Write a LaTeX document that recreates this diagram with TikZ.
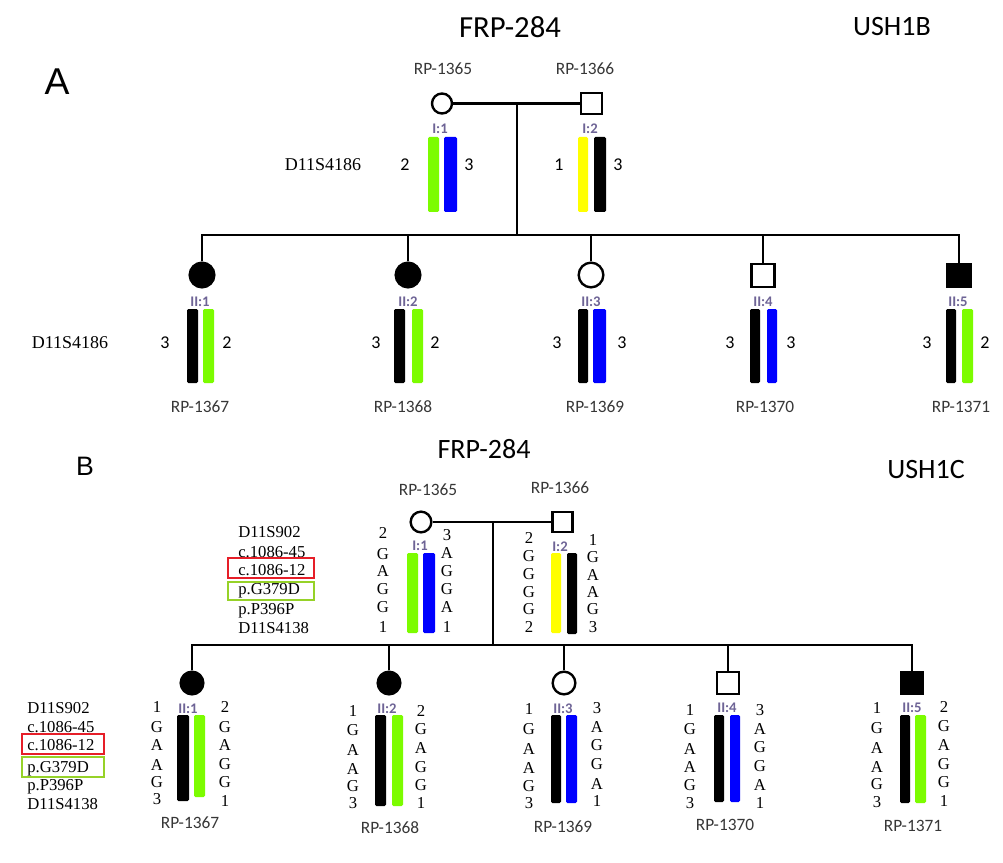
\documentclass[tikz,border=0pt]{standalone}
\usepackage{fontspec}
\setmainfont{Liberation Serif}
\newfontfamily\calfont{Carlito}
\newfontfamily\arialfont{Liberation Sans}
\definecolor{bgreen}{RGB}{124,252,0}
\definecolor{bblue}{RGB}{0,0,255}
\definecolor{byellow}{RGB}{255,255,0}
\definecolor{rpgray}{RGB}{55,55,55}
\definecolor{tagcol}{RGB}{110,100,150}
\definecolor{boxred}{RGB}{230,30,40}
\definecolor{boxgreen}{RGB}{150,210,40}
\begin{document}
\begin{tikzpicture}[x=0.75pt,y=-0.75pt,
 ped/.style={line width=1.9pt},
 fem/.style={circle,draw,line width=1.8pt,fill=white,inner sep=0pt},
 mal/.style={rectangle,draw,line width=1.8pt,fill=white,inner sep=0pt},
 aff/.style={fill=black},
 rp/.style={font=\calfont\fontsize{13}{15}\selectfont,text=rpgray,inner sep=0pt},
 tag/.style={font=\calfont\bfseries\fontsize{11}{12}\selectfont,text=tagcol,inner sep=0pt},
 ala/.style={font=\calfont\fontsize{13.5}{15}\selectfont,inner sep=0pt},
 alb/.style={font=\fontsize{12.5}{14}\selectfont,inner sep=0pt},
 leg/.style={font=\fontsize{12.5}{14}\selectfont,inner sep=0pt,anchor=base west},
 ttl/.style={font=\calfont\fontsize{21}{24}\selectfont,inner sep=0pt},
 bar/.style={rounded corners=1pt}]
\useasboundingbox (0,0) rectangle (1003,863);
\fill[white] (0,0) rectangle (1003,863);

% ================= PART A =================
\node[ttl,font=\calfont\fontsize{23}{26}\selectfont] (titA) at (510,27) {FRP-284};
\node[ttl] (genA) at (892,27) {USH1B};
\node[font=\arialfont\fontsize{28}{30}\selectfont,inner sep=0pt] (lblA) at (57,82) {A};

\node[rp] (rpA65) at (443,69) {RP-1365};
\node[rp] (rpA66) at (585,69) {RP-1366};

\node[fem,minimum size=15pt] (am) at (442,103.5) {};
\node[mal,minimum size=15.5pt] (af) at (591.5,103.5) {};
\draw[ped] (am.east) -- (af.west);

\node[font=\fontsize{13.5}{15}\selectfont,inner sep=0pt] (mkA1) at (323,165) {D11S4186};
\node[tag] (tagA1) at (440,129) {I:1};
\node[tag] (tagA2) at (590,129) {I:2};
\fill[bgreen,bar] (428,137) rectangle (439,212);
\fill[bblue,bar] (444,137) rectangle (457,212);
\fill[byellow,bar] (578,137) rectangle (588,212);
\fill[black,bar] (594,137) rectangle (606,212);
\node[ala] (aA1l) at (405,165) {2};
\node[ala] (aA1r) at (469,165) {3};
\node[ala] (aA2l) at (559,165) {1};
\node[ala] (aA2r) at (618,165) {3};

\coordinate (dA) at (517,103.5);
\coordinate (sA) at (517,235);
\draw[ped] (dA) -- (sA);

\node[fem,aff,minimum size=18.5pt] (k1) at (202,275) {};
\node[fem,aff,minimum size=18.5pt] (k2) at (408,275) {};
\node[fem,minimum size=18.5pt] (k3) at (591,275) {};
\node[mal,minimum size=17pt] (k4) at (763,275.5) {};
\node[mal,aff,minimum size=17pt] (k5) at (959,275.5) {};
\draw[ped] (k1.north) |- (sA) -| (k5.north);
\foreach \k in {k2,k3,k4} \draw[ped] (\k.north) -- (\k.north |- sA);

\node[font=\fontsize{13.5}{15}\selectfont,inner sep=0pt] (mkA2) at (70,343) {D11S4186};

% child bars A
\fill[black,bar] (187,309) rectangle (198,383);
\fill[bgreen,bar] (203,309) rectangle (214,383);
\fill[black,bar] (394,309) rectangle (405,383);
\fill[bgreen,bar] (412,309) rectangle (423,383);
\fill[black,bar] (578,309) rectangle (588,383);
\fill[bblue,bar] (593,309) rectangle (606,383);
\fill[black,bar] (750,309) rectangle (760,383);
\fill[bblue,bar] (767,309) rectangle (777,383);
\fill[black,bar] (946,309) rectangle (956,383);
\fill[bgreen,bar] (962,309) rectangle (973,383);

\node[tag] (tk1) at (200,302) {II:1};
\node[tag] (tk2) at (408,302) {II:2};
\node[tag] (tk3) at (591,302) {II:3};
\node[tag] (tk4) at (763,302) {II:4};
\node[tag] (tk5) at (958,302) {II:5};

\node[ala] (ak1l) at (165,343) {3}; \node[ala] (ak1r) at (227,343) {2};
\node[ala] (ak2l) at (376,343) {3}; \node[ala] (ak2r) at (435,343) {2};
\node[ala] (ak3l) at (557,343) {3}; \node[ala] (ak3r) at (622,343) {3};
\node[ala] (ak4l) at (730,343) {3}; \node[ala] (ak4r) at (791,343) {3};
\node[ala] (ak5l) at (927,343) {3}; \node[ala] (ak5r) at (985,343) {2};

\node[rp] (rpA67) at (200,407) {RP-1367};
\node[rp] (rpA68) at (403,407) {RP-1368};
\node[rp] (rpA69) at (595,407) {RP-1369};
\node[rp] (rpA70) at (765,407) {RP-1370};
\node[rp] (rpA71) at (961,407) {RP-1371};

% ================= PART B =================
\node[ttl] (titB) at (484,449) {FRP-284};
\node[ttl] (genB) at (926,470) {USH1C};
\node[font=\arialfont\fontsize{20}{22}\selectfont,inner sep=0pt] (lblB) at (85,466) {B};

\node[rp] (rpB65) at (428,490) {RP-1365};
\node[rp] (rpB66) at (560,488) {RP-1366};

\node[fem,minimum size=15.5pt] (bm) at (421,522) {};
\node[mal,minimum size=15pt] (bf) at (562.5,522) {};
\draw[ped] (bm.east) -- (bf.west);

% legend top
\node[leg] (lg1) at (238,537) {D11S902};
\node[leg] (lg2) at (238,557) {c.1086-45};
\node[leg] (lg3) at (238,575) {c.1086-12};
\node[leg] (lg4) at (238,594) {p.G379D};
\node[leg] (lg5) at (238,614) {p.P396P};
\node[leg] (lg6) at (238,633) {D11S4138};
\draw[boxred,line width=1.4pt] (228,558) rectangle (314,578);
\draw[boxgreen,line width=1.4pt] (228,582) rectangle (314,600);

\node[tag] (tagB1) at (420,546) {I:1};
\node[tag] (tagB2) at (560,547) {I:2};
\fill[bgreen,bar] (407,553) rectangle (418,633);
\fill[bblue,bar] (423,553) rectangle (435,633);
\fill[byellow,bar] (551,553) rectangle (561,633);
\fill[black,bar] (567,553) rectangle (577,634);

\foreach \t/\y [count=\i] in {2/533,G/554,A/571,G/589,G/607,1/627}
  \node[alb] (p1l\i) at (383,\y) {\t};
\foreach \t/\y [count=\i] in {3/535,A/553,G/571,G/589,A/607,1/627}
  \node[alb] (p1r\i) at (447,\y) {\t};
\foreach \t/\y [count=\i] in {2/538,G/556,G/574,G/592,G/609,2/627}
  \node[alb] (p2l\i) at (529,\y) {\t};
\foreach \t/\y [count=\i] in {1/540,G/557,A/575,A/592,G/609,3/627}
  \node[alb] (p2r\i) at (593,\y) {\t};

\coordinate (dB) at (493,522);
\coordinate (sB) at (493,645);
\draw[ped] (dB) -- (sB);

\node[fem,aff,minimum size=17pt] (c1) at (192,683) {};
\node[fem,aff,minimum size=17pt] (c2) at (389,683) {};
\node[fem,minimum size=17pt] (c3) at (564,683) {};
\node[mal,minimum size=16.5pt] (c4) at (728,683) {};
\node[mal,aff,minimum size=16.5pt] (c5) at (912,683) {};
\draw[ped] (c1.north) |- (sB) -| (c5.north);
\foreach \k in {c2,c3,c4} \draw[ped] (\k.north) -- (\k.north |- sB);

% legend bottom
\node[leg] (lh1) at (27,713) {D11S902};
\node[leg] (lh2) at (27,732) {c.1086-45};
\node[leg] (lh3) at (27,750) {c.1086-12};
\node[leg] (lh4) at (27,772) {p.G379D};
\node[leg] (lh5) at (27,790) {p.P396P};
\node[leg] (lh6) at (27,809) {D11S4138};
\draw[boxred,line width=1.4pt] (22,734) rectangle (104,754);
\draw[boxgreen,line width=1.4pt] (22,757) rectangle (104,777);

% child bars B
\fill[black,bar] (177,715) rectangle (189,801);
\fill[bgreen,bar] (194,715) rectangle (205,797);
\fill[black,bar] (375,715) rectangle (386,806);
\fill[bgreen,bar] (392,715) rectangle (403,806);
\fill[black,bar] (551,715) rectangle (561,803);
\fill[bblue,bar] (566,715) rectangle (577,803);
\fill[black,bar] (714,715) rectangle (724,802);
\fill[bblue,bar] (730,715) rectangle (740,802);
\fill[black,bar] (900,715) rectangle (910,803);
\fill[bgreen,bar] (915,715) rectangle (926,803);

\node[tag] (tc1) at (188,709) {II:1};
\node[tag] (tc2) at (387,709) {II:2};
\node[tag] (tc3) at (563,709) {II:3};
\node[tag] (tc4) at (727,708) {II:4};
\node[tag] (tc5) at (912,708) {II:5};

\foreach \t/\y [count=\i] in {1/707,G/727,A/745,A/765,G/782,3/799}
  \node[alb] (c1l\i) at (157,\y) {\t};
\foreach \t/\y [count=\i] in {2/707,G/727,A/745,G/764,G/782,1/801}
  \node[alb] (c1r\i) at (225,\y) {\t};
\foreach \t/\y [count=\i] in {1/711,G/730,A/750,A/769,G/786,3/803}
  \node[alb] (c2l\i) at (353,\y) {\t};
\foreach \t/\y [count=\i] in {2/711,G/729,A/748,G/767,G/785,1/803}
  \node[alb] (c2r\i) at (421,\y) {\t};
\foreach \t/\y [count=\i] in {1/709,G/729,A/749,A/768,G/786,3/803}
  \node[alb] (c3l\i) at (529,\y) {\t};
\foreach \t/\y [count=\i] in {3/708,A/727,G/745,G/764,A/784,1/801}
  \node[alb] (c3r\i) at (597,\y) {\t};
\foreach \t/\y [count=\i] in {1/710,G/729,A/749,A/767,G/785,3/803}
  \node[alb] (c4l\i) at (690,\y) {\t};
\foreach \t/\y [count=\i] in {3/710,A/729,G/747,G/766,A/785,1/803}
  \node[alb] (c4r\i) at (760,\y) {\t};
\foreach \t/\y [count=\i] in {1/708,G/728,A/748,A/767,G/784,3/802}
  \node[alb] (c5l\i) at (877,\y) {\t};
\foreach \t/\y [count=\i] in {2/707,G/726,A/745,G/764,G/782,1/801}
  \node[alb] (c5r\i) at (944,\y) {\t};

\node[rp] (rpB67) at (190,823) {RP-1367};
\node[rp] (rpB68) at (390,828) {RP-1368};
\node[rp] (rpB69) at (563,827) {RP-1369};
\node[rp] (rpB70) at (725,825) {RP-1370};
\node[rp] (rpB71) at (913,826) {RP-1371};
\end{tikzpicture}
\end{document}
